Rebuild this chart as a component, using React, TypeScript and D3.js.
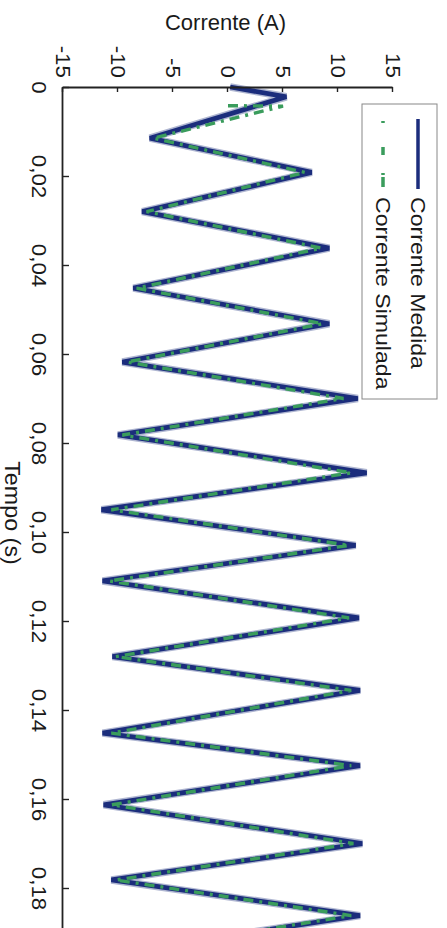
import React, { useEffect, useRef } from "react";
import * as d3 from "d3";

// canvas is drawn in the chart's own (landscape) frame, then turned 90deg clockwise
const W = 447;
const H = 928;

const timeTicks = [0, 0.02, 0.04, 0.06, 0.08, 0.1, 0.12, 0.14, 0.16, 0.18];
const currentTicks = [-15, -10, -5, 0, 5, 10, 15];

// Corrente Medida: turning points of the measured current (s, A)
const medidaT = [0, 0.0022, 0.0115, 0.0192, 0.028, 0.0362, 0.0452, 0.0532, 0.0618, 0.07, 0.0782, 0.0867, 0.095, 0.103, 0.111, 0.1193, 0.128, 0.1356, 0.1452, 0.1525, 0.1613, 0.17, 0.1782, 0.1862, 0.195];
const medidaA = [0.2, 5.3, -7.1, 7.6, -7.8, 9.2, -8.6, 9.2, -9.6, 11.8, -10.0, 12.6, -11.5, 11.6, -11.4, 11.9, -10.5, 12.0, -11.4, 12.0, -11.3, 12.2, -10.6, 12.0, -11.3];

// Corrente Simulada
const simuladaT = [0.0042, 0.0043, 0.0115, 0.0192, 0.028, 0.0362, 0.0452, 0.0532, 0.0618, 0.07, 0.0782, 0.0867, 0.095, 0.103, 0.111, 0.1193, 0.128, 0.1356, 0.1452, 0.1525, 0.1613, 0.17, 0.1782, 0.1862, 0.195];
const simuladaA = [0, 5.0, -6.8, 7.0, -7.4, 8.5, -8.3, 8.6, -9.2, 10.5, -9.6, 11.2, -10.6, 11.0, -10.8, 11.0, -10.2, 11.2, -10.6, 11.2, -10.6, 11.4, -10.2, 11.2, -10.8];

const seriesNames = ["Corrente Medida", "Corrente Simulada"];
const blue = "#1b2d7c";
const green = "#3a9c5c";
const font = "'Liberation Sans', Arial, sans-serif";
const stretch = 1.12; // the scan is a bit taller than wide

const x = d3.scaleLinear().domain([0, 0.2]).range([87, 977]);
const y = d3.scaleLinear().domain([-15, 15]).range([384, 54]);

export default function App() {
  const xAxisRef = useRef<SVGGElement>(null);
  const yAxisRef = useRef<SVGGElement>(null);

  useEffect(() => {
    const fmt = (d: number) => (d === 0 ? "0" : d3.format(".2f")(d).replace(".", ","));
    const xa = d3.select(xAxisRef.current!);
    xa.call(
      d3.axisBottom(x).tickValues(timeTicks).tickSizeInner(-6).tickSizeOuter(0).tickPadding(17).tickFormat((d) => fmt(+d))
    );
    const ya = d3.select(yAxisRef.current!);
    ya.call(
      d3.axisLeft(y).tickValues(currentTicks).tickSizeInner(-5).tickSizeOuter(0).tickPadding(9).tickFormat((d) => String(d))
    );
    [xa, ya].forEach((g) => {
      g.selectAll("text")
        .attr("font-size", 20)
        .attr("font-family", font)
        .attr("fill", "#1a1a1a")
        .attr("transform", `scale(${stretch},1)`);
      g.selectAll("line").attr("stroke", "#222").attr("stroke-width", 1.4);
      g.select(".domain").attr("stroke", "#222").attr("stroke-width", 1.8);
    });
    ya.selectAll("text").attr("x", -9 / stretch);
  }, []);

  const medidaPath = d3.line<number>().x((_, i) => x(medidaT[i])).y((d) => y(d))(medidaA) || "";
  const simuladaPath = d3.line<number>().x((_, i) => x(simuladaT[i])).y((d) => y(d))(simuladaA) || "";

  return (
    <>
      <style>{`body{margin:0}`}</style>
      <svg width={W} height={H} style={{ display: "block", background: "#fff" }}>
        <g transform={`translate(${W},0) rotate(90)`}>
          <path d={medidaPath} fill="none" stroke={blue} strokeOpacity={0.35} strokeWidth={7.5} />
          <path d={medidaPath} fill="none" stroke={blue} strokeWidth={4.8} />
          <path d={simuladaPath} fill="none" stroke={green} strokeWidth={3.4} strokeDasharray="10 6 3 6" />

          <g ref={xAxisRef} transform={`translate(0,${y(-15)})`} />
          <g ref={yAxisRef} transform={`translate(${x(0)},0)`} />

          <text
            transform={`translate(30,221.5) rotate(-90)`}
            textAnchor="middle"
            fontSize={22}
            fontFamily={font}
            fill="#1a1a1a"
          >
            Corrente (A)
          </text>
          <text
            transform={`translate(513,442) scale(1.06,1)`}
            textAnchor="middle"
            fontSize={22}
            fontFamily={font}
            fill="#1a1a1a"
          >
            Tempo (s)
          </text>

          <g>
            <rect x={104} y={10} width={295} height={75} fill="#fff" stroke="#888" strokeWidth={1} />
            <line x1={119} x2={189} y1={29} y2={29} stroke={blue} strokeWidth={3.5} />
            <line x1={121} x2={187} y1={64} y2={64} stroke={green} strokeWidth={3.5} strokeDasharray="2 24 8 18 2" />
            {seriesNames.map((n, i) => (
              <text
                key={n}
                transform={`translate(197,${i === 0 ? 29 : 64}) scale(1.1,1)`}
                dominantBaseline="central"
                fontSize={21}
                fontFamily={font}
                fill="#1a1a1a"
              >
                {n}
              </text>
            ))}
          </g>
        </g>
      </svg>
    </>
  );
}
